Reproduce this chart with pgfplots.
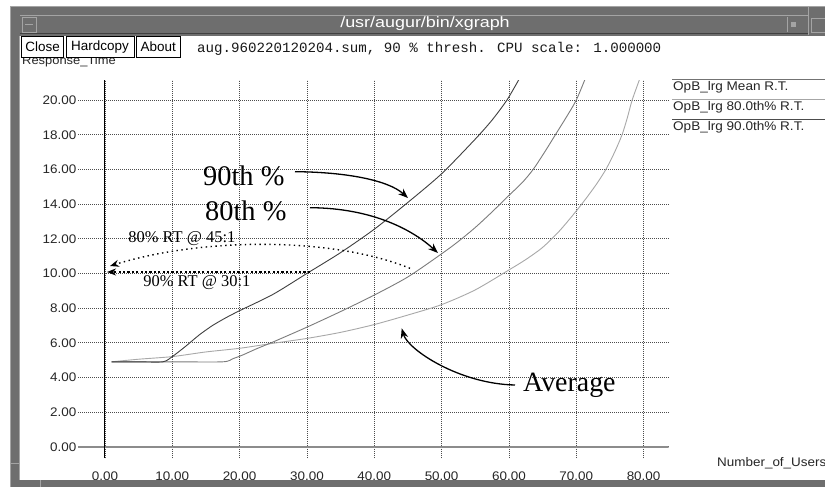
\documentclass[border=0pt]{standalone}
\usepackage{pgfplots}
\pgfplotsset{compat=1.18}
\usetikzlibrary{arrows.meta}
\usepackage{fontspec}
\setmainfont{Liberation Serif}
\setsansfont{Liberation Sans}
\newfontfamily\xsans[FakeStretch=1.08]{Liberation Sans}
\newfontfamily\tsans[FakeStretch=1.2]{Liberation Sans}
\newfontfamily\xmono{Liberation Mono}
\definecolor{wframe}{HTML}{6E6E6E}
\definecolor{wlight}{HTML}{A4A4A4}
\definecolor{wdark}{HTML}{404040}
\definecolor{cmean}{HTML}{A8A8A8}
\definecolor{ceighty}{HTML}{7C7C7C}
\definecolor{cninety}{HTML}{404040}
\begin{document}
\begin{tikzpicture}
\path[use as bounding box, fill=white] (0,0) rectangle (825bp,-487bp);
\begin{axis}[
  at={(78bp,-458bp)}, anchor=south west,
  scale only axis, width=590.5bp, height=378bp,
  xmin=-4, xmax=83.7, ymin=-0.65, ymax=21.16,
  axis line style={draw=none},
  major tick length=0pt,
  xtick={0,10,...,80}, ytick={0,2,...,20},
  grid=major,
  major grid style={black!70, line width=0.6bp, dash pattern=on 1bp off 1bp},
  ticklabel style={font=\xsans\fontsize{12.5}{14}\selectfont, text=black!85},
  xticklabel style={yshift=-10bp},
  yticklabel style={inner sep=1.5bp},
  /pgf/number format/fixed,
  /pgf/number format/fixed zerofill,
  /pgf/number format/precision=2,
  /pgf/number format/assume math mode=true,
]
\draw[black!45, line width=1.6bp] (axis cs:-4,0) -- (axis cs:83.7,0);
\draw[black, line width=1bp] (axis cs:0,-0.65) -- (axis cs:0,21.16);
% Mean
\addplot[cmean, line width=0.9bp, smooth, tension=0.45] coordinates {
(1,4.9) (5,5.05) (10,5.2) (15,5.47) (20,5.68) (25,5.97) (30,6.25) (35,6.6)
(40,7.05) (45,7.6) (50,8.2) (55,9.05) (60,10.2) (62.5,10.8) (65,11.5)
(67.5,12.45) (70,13.6) (71.5,14.35) (73,15.15) (74.4,16) (75.7,17) (76.8,18)
(77.6,19) (78.3,20) (79.5,21.3)};
% 80th
\addplot[ceighty, line width=0.9bp, smooth, tension=0.45] coordinates {
(1,4.9) (10,4.9) (17.5,4.9) (19,5.08) (20.5,5.3) (22.5,5.65) (25,6.05) (30,6.9) (35,7.8) (40,8.75)
(45,9.8) (50,11.13) (52.5,11.85) (55,12.65) (57.5,13.55) (60,14.5)
(62,15.25) (63.6,16) (65.3,17) (66.9,18) (68.5,19) (70,20) (71.4,21.3)};
% 90th
\addplot[cninety, line width=0.9bp, smooth, tension=0.45] coordinates {
(1,4.9) (5,4.9) (8.6,4.9) (10,5.2) (12,5.8) (14,6.45) (16,7.0) (18,7.45) (20,7.85) (25,8.8)
(30,10.0) (35,11.2) (40,12.55) (45,14.1) (50,15.75) (55,17.75)
(57.5,18.85) (59.7,20) (61.5,21.2)};
\end{axis}
\begin{scope}[x=1bp,y=-1bp]
% window frame
\fill[wframe] (10,6) rectangle (825,36);
\fill[wframe] (10,6) rectangle (20,487);
\fill[wframe] (10,480) rectangle (825,487);
\draw[wlight, line width=1bp] (10,6.5) -- (825,6.5);
\draw[wlight, line width=1bp] (10.5,6) -- (10.5,487);
\draw[wlight, line width=1bp] (20,15) -- (808,15);
\draw[wlight, line width=1bp] (19.5,36) -- (19.5,480);
\draw[wdark, line width=1bp] (20,33.5) -- (808,33.5);
\draw[wlight, line width=1bp] (808,6) -- (808,35);
\draw[wlight, line width=1bp] (10,463) -- (20,463);
\draw[wlight, line width=1bp] (40,480) -- (40,487);
\draw[wlight, line width=0.8bp] (22,17) rectangle (36,32);
\draw[wlight, line width=1.5bp] (25,24.5) -- (33,24.5);
\draw[wlight, line width=0.8bp] (787,17) -- (787,32);
\fill[wlight] (791,22) rectangle (796,27);
\draw[wlight, line width=0.8bp] (811,18) rectangle (825,32);
\node[text=white, font=\tsans\fontsize{15}{17}\selectfont] at (425,24) {/usr/augur/bin/xgraph};
% y label (partly hidden by buttons)
\node[anchor=base west, inner sep=0pt, text=black!85, font=\xsans\fontsize{12}{14}\selectfont] at (22,64.5) {Response\_Time};
% buttons
\draw[black, fill=white, line width=0.8bp] (21.7,36.5) rectangle (63.5,57.5);
\draw[black, fill=white, line width=0.8bp] (66,36.5) rectangle (134,57.5);
\draw[black, fill=white, line width=0.8bp] (136,36.5) rectangle (180.5,57.5);
\node[font=\sffamily\fontsize{13.5}{15}\selectfont] at (42.6,47) {Close};
\node[font=\sffamily\fontsize{13.5}{15}\selectfont] at (100,47) {Hardcopy};
\node[font=\sffamily\fontsize{13.5}{15}\selectfont] at (158.2,47) {About};
\node[anchor=base west, inner sep=0pt, text=black!90, font=\xmono\fontsize{14.2}{16}\selectfont] at (197,52) {aug.960220120204.sum, 90 \% thresh. CPU scale: 1.000000};
% legend
\draw[black!55, line width=1.2bp] (672,79.3) -- (825,79.3);
\draw[black!35, line width=1.2bp] (672,99.3) -- (825,99.3);
\draw[black!70, line width=1.2bp] (672,119.3) -- (825,119.3);
\node[anchor=base west, inner sep=0pt, text=black!85, font=\xsans\fontsize{12.6}{14}\selectfont] at (673,90.7) {OpB\_lrg Mean R.T.};
\node[anchor=base west, inner sep=0pt, text=black!85, font=\xsans\fontsize{12.6}{14}\selectfont] at (673,110.5) {OpB\_lrg 80.0th\% R.T.};
\node[anchor=base west, inner sep=0pt, text=black!85, font=\xsans\fontsize{12.6}{14}\selectfont] at (673,130.5) {OpB\_lrg 90.0th\% R.T.};
\node[anchor=base west, inner sep=0pt, text=black!85, font=\xsans\fontsize{12.5}{14}\selectfont] at (717,466) {Number\_of\_Users};
% annotations
\node[anchor=base west, inner sep=0pt, font=\fontsize{28.5}{30}\selectfont] at (203,185) {90th \%};
\node[anchor=base west, inner sep=0pt, font=\fontsize{28.5}{30}\selectfont] at (205,220) {80th \%};
\node[anchor=base west, inner sep=0pt, font=\fontsize{28}{30}\selectfont] at (523,391.7) {Average};
\draw[line width=1.3bp, -{Stealth[length=10bp,width=7.5bp]}] (295,171.7) .. controls (345,172) and (388,180) .. (408,198);
\draw[line width=1.3bp, -{Stealth[length=10bp,width=7.5bp]}] (310,207.7) .. controls (375,208) and (415,232) .. (438,253);
\draw[line width=1.3bp, -{Stealth[length=10bp,width=7.5bp]}] (515,385) .. controls (460,384) and (408,350) .. (401.7,328.3);
\draw[line width=2.2bp, dash pattern=on 2.2bp off 2.2bp, -{Stealth[length=9bp,width=7bp]}] (310,272) -- (107,272);
\draw[line width=1.4bp, dash pattern=on 1.4bp off 3.5bp, -{Stealth[length=9bp,width=7bp]}] (410,268.3) .. controls (330,236) and (200,238) .. (110,266);
\node[anchor=base west, inner sep=0pt, font=\fontsize{16.5}{18}\selectfont] at (128.3,242.7) {80\% RT @ 45:1};
\node[anchor=base west, inner sep=0pt, font=\fontsize{16.5}{18}\selectfont] at (143.3,286) {90\% RT @ 30:1};
\end{scope}
\end{tikzpicture}
\end{document}
